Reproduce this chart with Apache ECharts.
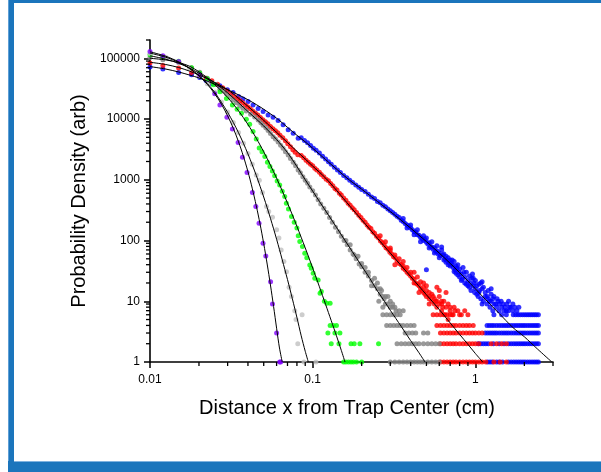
<!DOCTYPE html>
<html>
<head>
<meta charset="utf-8">
<title>Probability density vs distance</title>
<script src="https://cdn.jsdelivr.net/npm/echarts@6/dist/echarts.min.js"></script>
<style>
  html, body { margin: 0; padding: 0; background: #fff; }
  #chart { width: 601px; height: 472px; }
</style>
</head>
<body>
<div id="chart"></div>
<script>
// measured points, [x in cm, density]
const purpleDots = [[0.01,129000],[0.012,110000],[0.015,88500],[0.0202,53400],[0.025,26000],[0.0269,17100],[0.0297,10700],
  [0.0321,6820],[0.0348,4100],[0.037,2350],[0.0395,1315],[0.0426,615],[0.0447,362],[0.0468,193],[0.0495,90],[0.0515,55.8],
  [0.0551,21],[0.0566,9],[0.06,3],[0.0627,1],[0.0635,1]];

const lightDots = [[0.01,120000],[0.0125,104000],[0.015,86000],[0.0175,68000],[0.02,51000],[0.0225,38000],[0.025,27500],
  [0.0275,19000],[0.03,13000],[0.0325,8800],[0.035,6000],[0.0375,4000],[0.04,2700],[0.0425,1800],[0.045,1200],[0.047,980],
  [0.0491,620],[0.052,362],[0.0537,300],[0.0566,242],[0.06,150],[0.062,110],[0.064,70],[0.0665,45],[0.069,30.7],[0.0716,17],
  [0.074,12],[0.0776,7],[0.079,5],[0.0861,6],[0.081,2],[0.0884,1],[0.1047,1]];

const greenDots = [[0.01,114000],[0.012,104000],[0.015,89000],[0.018,70000],[0.0202,57000],[0.0225,46000],[0.0245,36500],
  [0.0269,28100],[0.0295,21800],[0.0321,17100],[0.0343,14500],[0.0365,12500],[0.0391,9960],[0.041,8200],[0.043,6220],
  [0.045,4700],[0.0469,3320],[0.0488,2900],[0.0508,2410],[0.0527,1950],[0.0546,1650],[0.0565,1400],[0.0584,1170],[0.0605,950],
  [0.0627,824],[0.065,650],[0.0673,529],[0.0689,411],[0.071,330],[0.0741,248],[0.077,200],[0.08,160],[0.0815,120],[0.0833,96],
  [0.0865,80],[0.0894,61.8],[0.092,52],[0.096,39.6],[0.098,35],[0.1007,28.9],[0.103,24],[0.108,22.4],[0.111,13.5],[0.113,14.5],
  [0.118,10],[0.122,9.3],[0.128,9.3]];
const greenRows = [[4,[0.128,0.134,0.14]],[3,[0.124,0.137,0.147]],[2,[0.13,0.145,0.172,0.18,0.195,0.254]],
  [1,[0.155,0.16,0.166,0.172,0.178,0.186,0.2]]];

const grayDots = [[0.01,103000],[0.012,95000],[0.015,85000],[0.018,70000],[0.0202,59000],[0.0225,47000],[0.0239,40000],
  [0.0254,37000],[0.0269,31000],[0.0282,29000],[0.0295,26000],[0.031,23000],[0.0324,20500],[0.034,18500],[0.0356,16500],
  [0.0372,15000],[0.039,13600],[0.0415,12000],[0.044,10800],[0.0462,9600],[0.048,8700],[0.0496,7900],[0.0515,7200],[0.0532,6500],
  [0.055,5800],[0.0571,5100],[0.059,4700],[0.0613,4200],[0.0635,3700],[0.0658,3300],[0.068,2900],[0.0707,2550],[0.073,2250],
  [0.0759,1950],[0.0785,1700],[0.0814,1450],[0.084,1300],[0.087,1120],[0.09,980],[0.093,880],[0.096,760],[0.1,660],[0.104,560],
  [0.108,470],[0.112,400],[0.117,340],[0.122,290],[0.127,240],[0.132,200],[0.138,165],[0.144,140],[0.15,118],[0.156,100],
  [0.163,85],[0.17,70],[0.177,60],[0.185,50],[0.193,41],[0.2,37],[0.21,30],[0.22,26],[0.23,22],[0.24,18],[0.25,16],[0.26,13],
  [0.265,15],[0.275,11],[0.28,12],[0.29,9],[0.3,8],[0.31,8],[0.325,7],[0.24,24],[0.255,10],[0.27,8],[0.3,10],
  [0.16,100],[0.17,85],[0.18,58],[0.19,55],[0.2,42],[0.21,36],[0.22,30],[0.23,18],[0.25,20],[0.26,16],[0.27,12],[0.28,9],
  [0.29,12],[0.31,9],[0.32,8],[0.34,7],[0.36,7]];
const grayRows = [[6,[0.27,0.285,0.3,0.315,0.33,0.345]],[4,[0.285,0.3,0.315,0.33,0.345,0.36,0.38,0.4,0.42]],
  [3,[0.37,0.39,0.41,0.43,0.48,0.51]],[2,[0.33,0.35,0.37,0.39,0.41,0.43,0.45,0.48,0.51,0.54,0.57,0.6]],
  [1,[0.3,0.32,0.34,0.36,0.38,0.4,0.42,0.44,0.46,0.48,0.51,0.54,0.57,0.6]]];

const redDots = [[0.01,83400],[0.012,76000],[0.015,69000],[0.018,58300],[0.0202,53400],[0.0221,47000],[0.024,42500],[0.026,37500],
  [0.028,32700],[0.0297,29000],[0.0313,26000],[0.033,23500],[0.0346,21500],[0.0358,20000],[0.0371,18500],[0.0385,17000],
  [0.0398,15900],[0.0413,14700],[0.0428,13600],[0.0444,12600],[0.046,11700],[0.0477,10600],[0.0494,9700],[0.0512,9000],
  [0.053,8340],[0.055,7500],[0.057,6900],[0.059,6400],[0.061,5930],[0.063,5400],[0.0655,4900],[0.068,4400],[0.0703,3900],
  [0.073,3500],[0.0755,3110],[0.078,2850],[0.081,2570],[0.085,2500],[0.088,2300],[0.091,2100],[0.094,1950],[0.097,1800],
  [0.1,1700],[0.103,1550],[0.106,1450],[0.11,1330],[0.113,1220],[0.117,1120],[0.121,1020],[0.125,960],[0.129,870],[0.133,800],
  [0.137,720],[0.141,680],[0.146,600],[0.15,560],[0.155,500],[0.16,460],[0.165,410],[0.17,380],[0.175,345],[0.18,320],[0.186,290],
  [0.192,260],[0.198,240],[0.204,215],[0.21,200],[0.216,180],[0.222,165],[0.228,158],[0.234,140],[0.24,132],[0.247,118],
  [0.254,110],[0.261,98],[0.268,92],[0.275,84],[0.282,76],[0.29,72],[0.298,64],[0.306,60],[0.314,54],[0.322,52],[0.33,46],
  [0.34,42],[0.35,40],[0.36,35],[0.37,33],[0.38,30],[0.39,28],[0.4,26],[0.41,24],[0.42,23],[0.43,20],[0.44,19],[0.45,18],
  [0.46,16],[0.47,15],[0.48,14],[0.49,13],[0.5,12],[0.52,11],[0.54,10],[0.56,9],[0.58,8],[0.6,9],[0.62,7],[0.65,6],
  [0.3,75],[0.32,40],[0.36,45],[0.42,30],[0.45,14],[0.48,20],[0.52,14],[0.55,12],[0.58,17],[0.62,10],[0.7,8],[0.75,7],
  [0.68,5],[0.52,9],[0.57,10],[0.63,8],[0.72,6],[0.8,6],[0.5,15],
  [0.26,120],[0.28,95],[0.3,70],[0.32,58],[0.34,50],[0.36,38],[0.38,36],[0.4,30],[0.42,20],[0.44,25],[0.46,21],[0.48,17],
  [0.5,18],[0.52,12],[0.54,13],[0.56,11],[0.58,10],[0.6,12],[0.62,9],[0.64,10],[0.66,8],[0.68,9],[0.7,7],[0.74,8],[0.78,7],
  [0.82,6],[0.86,7],[0.9,6],[0.66,14],[0.6,15]];
const redRows = [[6,[0.55,0.58,0.61,0.64,0.67,0.7,0.73]],[4,[0.58,0.61,0.64,0.67,0.7,0.73,0.76,0.8,0.84,0.88,0.92,0.97]],
  [3,[0.61,0.64,0.67,0.7,0.73,0.76,0.8,0.84,0.88,0.92,0.96,1.0,1.05,1.1]],
  [2,[0.61,0.64,0.67,0.7,0.73,0.76,0.8,0.84,0.88,0.92,0.96,1.0,1.05,1.25,1.35,1.45,1.55]],
  [1,[0.61,0.64,0.67,0.7,0.73,0.76,0.8,0.84,0.88,0.92,0.96,1.0,1.05,1.1,1.16,1.3,1.42,1.55]]];

const blueDots = [[0.01,71600],[0.012,66400],[0.015,58300],[0.018,53400],[0.0202,48300],[0.0221,43000],[0.0241,38000],
  [0.0269,35200],[0.0299,30300],[0.0324,27300],[0.035,23500],[0.0373,21300],[0.0401,19400],[0.043,17100],[0.0462,14900],
  [0.0496,13300],[0.0532,11700],[0.0571,10700],[0.0613,9440],[0.0658,8020],[0.0707,6640],[0.0759,5860],[0.0814,4840],
  [0.085,4900],[0.089,4450],[0.093,4050],[0.097,3650],[0.101,3300],[0.105,3050],[0.11,2750],[0.115,2450],[0.12,2200],
  [0.125,1980],[0.13,1800],[0.136,1600],[0.142,1450],[0.148,1320],[0.155,1180],[0.162,1080],[0.169,980],[0.176,900],
  [0.184,820],[0.192,750],[0.2,690],[0.21,640],[0.22,580],[0.23,520],[0.24,490],[0.25,440],[0.26,420],[0.27,380],[0.28,360],
  [0.29,330],[0.3,310],[0.31,290],[0.32,270],[0.33,250],[0.34,240],[0.35,215],[0.36,205],[0.37,190],[0.38,180],[0.39,170],
  [0.4,160],[0.41,150],[0.42,140],[0.43,138],[0.44,125],[0.45,122],[0.46,112],[0.47,108],[0.48,100],[0.49,104],[0.5,94],
  [0.51,88],[0.52,92],[0.53,80],[0.54,78],[0.55,72],[0.56,76],[0.57,66],[0.58,68],[0.59,60],[0.6,62],[0.61,56],[0.62,70],
  [0.63,58],[0.64,48],[0.65,50],[0.66,44],[0.67,47],[0.68,40],[0.69,43],[0.7,38],[0.71,42],[0.72,48],[0.73,36],[0.74,31],
  [0.75,33],[0.76,29],[0.77,35],[0.78,27],[0.79,30],[0.8,25],[0.82,28],[0.83,23],[0.85,30],[0.86,25],[0.88,19],[0.9,22],
  [0.92,17],[0.93,20],[0.95,24],[0.97,18],[0.99,14],[1.0,16],[1.02,13],[1.04,12],[1.05,19],[1.06,15],[1.08,11],[1.1,16],
  [1.12,10],[1.15,12],[1.18,9],[1.2,11],[1.23,8],[1.25,10],[1.28,7],[1.3,9],[1.35,8],[1.4,7],[1.45,8],[1.5,7],[1.55,7],
  [1.6,7],[0.5,33],[1.38,10],[1.62,8],[1.7,7],
  [0.36,230],[0.38,160],[0.4,180],[0.42,125],[0.44,150],[0.46,95],[0.48,120],[0.5,110],[0.52,75],[0.54,95],[0.56,62],
  [0.58,82],[0.6,52],[0.62,78],[0.64,60],[0.66,55],[0.68,52],[0.7,48],[0.72,40],[0.74,45],[0.76,38],[0.78,40],[0.8,34],
  [0.82,22],[0.84,36],[0.86,20],[0.88,30],[0.9,18],[0.92,26],[0.94,15],[0.96,28],[0.98,20],[1.0,22],[1.02,18],[1.05,14],
  [1.08,20],[1.1,9],[1.12,17],[1.15,14],[1.18,12],[1.2,15],[1.22,10],[1.25,13],[1.28,11],[1.3,12],[1.33,9],[1.36,11],
  [1.4,9],[1.44,10],[1.48,9],[1.52,8],[1.56,9],[1.6,10],[1.65,8],[1.7,9],[1.75,8],[1.8,7],[1.85,8],[1.25,16],[1.1,21],[0.97,24]];
const blueRows = [[6,[1.3,1.45,1.55,1.71,1.77,1.83,1.89,1.95,2.01,2.07,2.13,2.19,2.25,2.31,2.37,2.44]],
  [4,[1.18,1.22,1.26,1.3,1.35,1.4,1.45,1.5,1.55,1.6,1.66,1.72,1.78,1.84,1.9,1.96,2.02,2.09,2.16,2.23,2.3,2.37,2.44]],
  [3,[1.15,1.19,1.23,1.27,1.31,1.35,1.4,1.45,1.5,1.55,1.6,1.66,1.72,1.78,1.84,1.9,1.96,2.02,2.09,2.16,2.23,2.3,2.37,2.44]],
  [2,[1.04,1.08,1.12,1.16,1.2,1.29,1.4,1.5,1.6,1.66,1.72,1.78,1.84,1.9,1.96,2.02,2.09,2.16,2.23,2.3,2.37,2.44]],
  [1,[1.19,1.23,1.27,1.35,1.4,1.47,1.6,1.66,1.72,1.78,1.84,1.9,1.96,2.02,2.09,2.16,2.23,2.3,2.37,2.44]]];

// fitted curves
const purpleFit = [[0.01,128000],[0.0125,108000],[0.015,87500],[0.0175,68400],[0.02,51500],[0.0225,37300],[0.025,26000],
  [0.0275,17500],[0.03,11300],[0.0325,7060],[0.035,4230],[0.0375,2440],[0.04,1360],[0.0425,727],[0.045,373],[0.0475,186],
  [0.05,89],[0.0525,41],[0.055,18.5],[0.0575,8.2],[0.06,3.6],[0.0625,1.7],[0.065,1]];
const lightFit = [[0.01,122000],[0.0125,104000],[0.015,86000],[0.0175,68000],[0.02,51500],[0.0225,38500],[0.025,27500],
  [0.0275,18800],[0.03,12900],[0.0325,8800],[0.035,5950],[0.0375,3990],[0.04,2660],[0.0425,1770],[0.045,1180],[0.0475,780],
  [0.05,520],[0.0525,347],[0.055,232],[0.0575,156],[0.06,105],[0.0625,71],[0.065,48],[0.07,22.8],[0.075,11],[0.08,5.4],
  [0.085,2.7],[0.09,1.5],[0.094,1]];
const greenFit = [[0.01,110000],[0.0125,96600],[0.015,82600],[0.0175,69200],[0.02,56800],[0.0225,46000],[0.025,36700],
  [0.0275,29000],[0.03,22700],[0.0325,17600],[0.035,13700],[0.04,8140],[0.045,4830],[0.05,2890],[0.055,1740],[0.06,1060],
  [0.065,657],[0.07,413],[0.075,264],[0.08,171],[0.09,75.5],[0.1,35.2],[0.11,17.3],[0.12,8.9],[0.13,4.8],[0.14,2.7],
  [0.15,1.55],[0.158,1]];
const grayFit = [[0.01,100000],[0.0125,94000],[0.015,85000],[0.0175,74000],[0.02,60000],[0.0225,48000],[0.025,39500],
  [0.03,27000],[0.035,18500],[0.04,13300],[0.045,10000],[0.05,7700],[0.06,4600],[0.07,2800],[0.08,1650],[0.09,1000],
  [0.1,650],[0.11,440],[0.125,262],[0.14,165],[0.158,100],[0.175,66],[0.2,38],[0.225,23.5],[0.25,14.8],[0.276,10],
  [0.3,7.1],[0.35,3.85],[0.4,2.25],[0.45,1.42],[0.49,1]];
const redFit = [[0.01,86000],[0.0125,79000],[0.015,70500],[0.0175,61500],[0.02,53000],[0.0225,46000],[0.025,40000],
  [0.03,30500],[0.035,22000],[0.04,16200],[0.045,12250],[0.049,10000],[0.06,6030],[0.07,4100],[0.08,2940],[0.09,2190],
  [0.1,1680],[0.12,1066],[0.14,672],[0.17,362],[0.2,219],[0.25,109],[0.3,62],[0.35,38.6],[0.4,25.5],[0.5,12.8],
  [0.6,7.3],[0.7,4.4],[0.8,2.85],[0.9,1.95],[1.0,1.38],[1.11,1]];
const blueFit = [[0.01,73000],[0.0125,66500],[0.015,59500],[0.0175,53000],[0.02,47500],[0.0225,42000],[0.025,37500],
  [0.03,30500],[0.035,25000],[0.04,20800],[0.045,17300],[0.05,14500],[0.06,10300],[0.07,7300],[0.08,5400],[0.09,4200],
  [0.1,3300],[0.12,2150],[0.14,1500],[0.165,1030],[0.2,700],[0.25,440],[0.3,300],[0.35,215],[0.4,160],[0.45,122],
  [0.5,96],[0.6,62],[0.7,42],[0.8,29.5],[0.9,21.5],[1.0,16],[1.15,10.8],[1.4,6.3],[1.7,3.7],[2.0,2.6],[2.4,1.65],[2.95,1]];

// log axis minor tick positions
const xMinor = [0.02,0.03,0.04,0.05,0.06,0.07,0.08,0.09,0.2,0.3,0.4,0.5,0.6,0.7,0.8,0.9,2,3];
const yMinor = [2,3,4,5,6,7,8,9,20,30,40,50,60,70,80,90,200,300,400,500,600,700,800,900,
  2000,3000,4000,5000,6000,7000,8000,9000,20000,30000,40000,50000,60000,70000,80000,90000,200000];

const FONT = "'Liberation Sans', Arial, sans-serif";
const FRAME = '#1b75bc';

function withRows(dots, rows) {
  let out = dots.slice();
  rows.forEach(function (r) { r[1].forEach(function (x) { out.push([x, r[0]]); }); });
  return out;
}
function dots(data, color) {
  return { type: 'scatter', data: data, symbol: 'circle', symbolSize: 5, itemStyle: { color: color }, silent: true, z: 2 };
}
function fit(data) {
  return { type: 'line', data: data, showSymbol: false, smooth: 0.3, silent: true, z: 3,
    lineStyle: { color: '#000', width: 1 } };
}
function fmt(v) { return String(parseFloat(Number(v).toPrecision(3))); }

let chart = echarts.init(document.getElementById('chart'));
let option = {
  animation: false,
  backgroundColor: '#fff',
  graphic: [
    { type: 'rect', shape: { x: 8, y: 0, width: 593, height: 3 }, style: { fill: FRAME } },
    { type: 'rect', shape: { x: 8, y: 0, width: 6, height: 472 }, style: { fill: FRAME } },
    { type: 'rect', shape: { x: 8, y: 0, width: 1, height: 472 }, style: { fill: '#5e9fd6' } },
    { type: 'rect', shape: { x: 8, y: 461, width: 593, height: 11 }, style: { fill: FRAME } },
    { type: 'rect', shape: { x: 14, y: 461, width: 587, height: 1 }, style: { fill: '#7fb2df' } }
  ],
  grid: { left: 150, right: 48, top: 40, bottom: 110 },
  xAxis: {
    type: 'log', logBase: 10, min: 0.01, max: 3,
    name: 'Distance x from Trap Center (cm)', nameLocation: 'middle', nameGap: 36,
    nameTextStyle: { fontFamily: FONT, fontSize: 20, color: '#000', padding: [0, 9, 0, 0] },
    axisLine: { lineStyle: { color: '#000', width: 1.6 } },
    axisTick: { length: 6, lineStyle: { color: '#000', width: 1.5 } },
    axisLabel: { margin: 12, fontFamily: FONT, fontSize: 12, color: '#000', showMaxLabel: false, formatter: fmt },
    splitLine: { show: false }
  },
  yAxis: {
    type: 'log', logBase: 10, min: 1, max: 200000,
    name: 'Probability Density (arb)', nameLocation: 'middle', nameGap: 46,
    nameTextStyle: { fontFamily: FONT, fontSize: 20, color: '#000' },
    axisLine: { lineStyle: { color: '#000', width: 1.6 } },
    axisTick: { length: 6, lineStyle: { color: '#000', width: 1.5 } },
    axisLabel: { margin: 10, fontFamily: FONT, fontSize: 12, color: '#000', showMaxLabel: false, formatter: fmt },
    splitLine: { show: false }
  },
  series: [
    dots(withRows(blueDots, blueRows), '#0000ff'),
    dots(withRows(redDots, redRows), '#ff0000'),
    dots(withRows(grayDots, grayRows), '#808080'),
    dots(withRows(greenDots, greenRows), '#00ff00'),
    dots(lightDots, '#c0c0c0'),
    dots(purpleDots, '#8000ff'),
    fit(purpleFit), fit(lightFit), fit(greenFit), fit(grayFit), fit(redFit), fit(blueFit),
    {
      type: 'custom', silent: true, clip: false, z: 5,
      data: xMinor.map(function (v) { return [v, 1]; }),
      renderItem: function (params, api) {
        let p = api.coord([api.value(0), api.value(1)]);
        return { type: 'line', shape: { x1: p[0], y1: p[1], x2: p[0], y2: p[1] + 4 }, style: { stroke: '#000', lineWidth: 1.3 } };
      }
    },
    {
      type: 'custom', silent: true, clip: false, z: 5,
      data: yMinor.map(function (v) { return [0.01, v]; }),
      renderItem: function (params, api) {
        let p = api.coord([api.value(0), api.value(1)]);
        return { type: 'line', shape: { x1: p[0], y1: p[1], x2: p[0] - 4, y2: p[1] }, style: { stroke: '#000', lineWidth: 1.3 } };
      }
    }
  ]
};
chart.setOption(option);
</script>
</body>
</html>
